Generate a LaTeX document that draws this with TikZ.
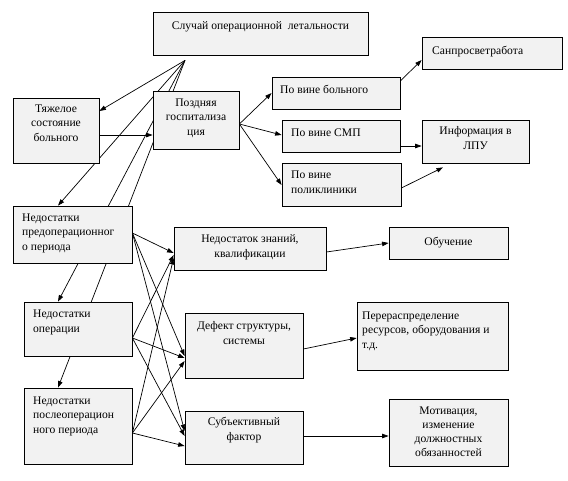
\documentclass[tikz,border=0pt]{standalone}
\usepackage{fontspec}
\setmainfont{Liberation Serif}
\usetikzlibrary{arrows.meta,backgrounds}
\definecolor{boxfill}{HTML}{F2F2F2}
\tikzset{
  box/.style={draw=black, line width=0.8pt, fill=boxfill, inner sep=0pt, anchor=center},
  txtc/.style={inner sep=0pt, align=center, anchor=base, font=\fontsize{11.6}{14.3}\selectfont},
  txtl/.style={inner sep=0pt, align=left, anchor=base west, font=\fontsize{11.6}{14.3}\selectfont},
  conn/.style={line width=0.7pt, -{Triangle[length=6.5pt,width=4.5pt]}}
}
\begin{document}
\begin{tikzpicture}[x=1pt,y=-1pt]
\useasboundingbox (0,0) rectangle (568,480);
% boxes
\node[box, minimum width=215pt, minimum height=43pt] (top) at (260.5,33.5) {};
\node[box, minimum width=86pt, minimum height=65pt] (tyazh) at (56,130.5) {};
\node[box, minimum width=86pt, minimum height=58pt] (pozd) at (196,120) {};
\node[box, minimum width=128pt, minimum height=32pt] (pvb) at (336,93) {};
\node[box, minimum width=140pt, minimum height=32pt] (sanp) at (492,53) {};
\node[box, minimum width=118pt, minimum height=32pt] (psmp) at (341,136) {};
\node[box, minimum width=107pt, minimum height=43pt] (info) at (475.5,141.5) {};
\node[box, minimum width=119pt, minimum height=43pt] (ppol) at (341.5,184.5) {};
\node[box, minimum width=119pt, minimum height=57pt] (npre) at (72.5,234.5) {};
\node[box, minimum width=108pt, minimum height=54pt] (nop) at (78,329) {};
\node[box, minimum width=108pt, minimum height=76pt] (npost) at (78,426) {};
\node[box, minimum width=152pt, minimum height=43pt] (zn) at (250,248.5) {};
\node[box, minimum width=118pt, minimum height=65pt] (def) at (244,345.5) {};
\node[box, minimum width=118pt, minimum height=53pt] (subj) at (244,437.5) {};
\node[box, minimum width=119pt, minimum height=32pt] (obuch) at (448.5,243) {};
\node[box, minimum width=151pt, minimum height=68pt] (perer) at (432.5,336) {};
\node[box, minimum width=119pt, minimum height=67pt] (motiv) at (448.5,432.5) {};
% texts (base anchor = baseline of last line)
\node[txtc] (top-t) at (260.5,29) {Случай операционной \ летальности};
\node[txtc] (tyazh-t) at (56,141) {Тяжелое\\состояние\\больного};
\node[txtc] (pozd-t) at (196,135) {Поздняя\\госпитализа\\ция};
\node[txtl] (pvb-t) at (280,93) {По вине больного};
\node[txtl] (sanp-t) at (432,54) {Санпросветработа};
\node[txtl] (psmp-t) at (291,136) {По вине СМП};
\node[txtc] (info-t) at (475.5,149) {Информация в\\ЛПУ};
\node[txtl] (ppol-t) at (291,193) {По вине\\поликлиники};
\node[txtl] (npre-t) at (22,250) {Недостатки\\предоперационног\\о периода};
\node[txtl] (nop-t) at (33,332) {Недостатки\\операции};
\node[txtl] (npost-t) at (33,433) {Недостатки\\послеоперацион\\ного периода};
\node[txtc] (zn-t) at (250,257) {Недостаток знаний,\\квалификации};
\node[txtc] (def-t) at (244,344) {Дефект структуры,\\системы};
\node[txtc] (subj-t) at (244,440) {Субъективный\\фактор};
\node[txtc] (obuch-t) at (448.5,245) {Обучение};
\node[txtl] (perer-t) at (362,348) {Перераспределение\\ресурсов, оборудования и\\т.д.};
\node[txtc, font=\fontsize{11.6}{13.7}\selectfont] (motiv-t) at (448.5,456) {Мотивация,\\изменение\\должностных\\обязанностей};
% connectors
\coordinate (conv) at ([xshift=-75.5pt,yshift=-5pt]top.south);
\begin{pgfonlayer}{background}
\fill[white] (0,0) rectangle (568,480);
\draw[conn] (conv) -- ([yshift=19.5pt]tyazh.east);
\draw[conn] (conv) -- ([xshift=-14.5pt]npre.north);
\draw[conn] (conv) -- ([xshift=-20pt]nop.north);
\draw[conn] (conv) -- ([xshift=-20pt]npost.north);
\draw[conn] ([yshift=-4.5pt]tyazh.east) -- ([yshift=-15pt]pozd.west);
\draw[conn] ([yshift=-4pt]pozd.east) -- (pvb.west);
\draw[conn] ([yshift=-4pt]pozd.east) -- ([yshift=1pt]psmp.west);
\draw[conn] ([yshift=-4pt]pozd.east) -- ([yshift=-0.5pt]ppol.west);
\draw[conn] ([yshift=12pt]pvb.east) -- ([yshift=-7pt]sanp.west);
\draw[conn] ([yshift=-10pt]psmp.east) -- ([yshift=-4.5pt]info.west);
\draw[conn] ([yshift=-3.5pt]ppol.east) -- ([xshift=-32.5pt,yshift=-4pt]info.south);
% left to middle
\draw[conn] ([yshift=1.5pt]npre.east) -- ([yshift=-4.5pt]zn.west);
\draw[conn] ([yshift=1.5pt]npre.east) -- ([yshift=-10.5pt]def.west);
\draw[conn] ([yshift=1.5pt]npre.east) -- ([yshift=6.5pt]subj.west);
\draw[conn] ([yshift=-9pt]nop.east) -- ([yshift=-6.5pt]zn.west);
\draw[conn] ([yshift=-9pt]nop.east) -- ([yshift=-12.5pt]def.west);
\draw[conn] ([yshift=-9pt]nop.east) -- ([yshift=1.5pt]subj.west);
\draw[conn] ([yshift=-7pt]npost.east) -- ([yshift=-9.5pt]zn.west);
\draw[conn] ([yshift=-7pt]npost.east) -- ([yshift=-15.5pt]def.west);
\draw[conn] ([yshift=-7pt]npost.east) -- ([yshift=-8.5pt]subj.west);
% middle to right
\draw[conn] ([yshift=-3.5pt]zn.east) -- (obuch.west);
\draw[conn] ([yshift=-3.5pt]def.east) -- ([yshift=-2pt]perer.west);
\draw[conn] ([yshift=1.5pt]subj.east) -- ([yshift=-3.5pt]motiv.west);
\end{pgfonlayer}
\end{tikzpicture}
\end{document}
